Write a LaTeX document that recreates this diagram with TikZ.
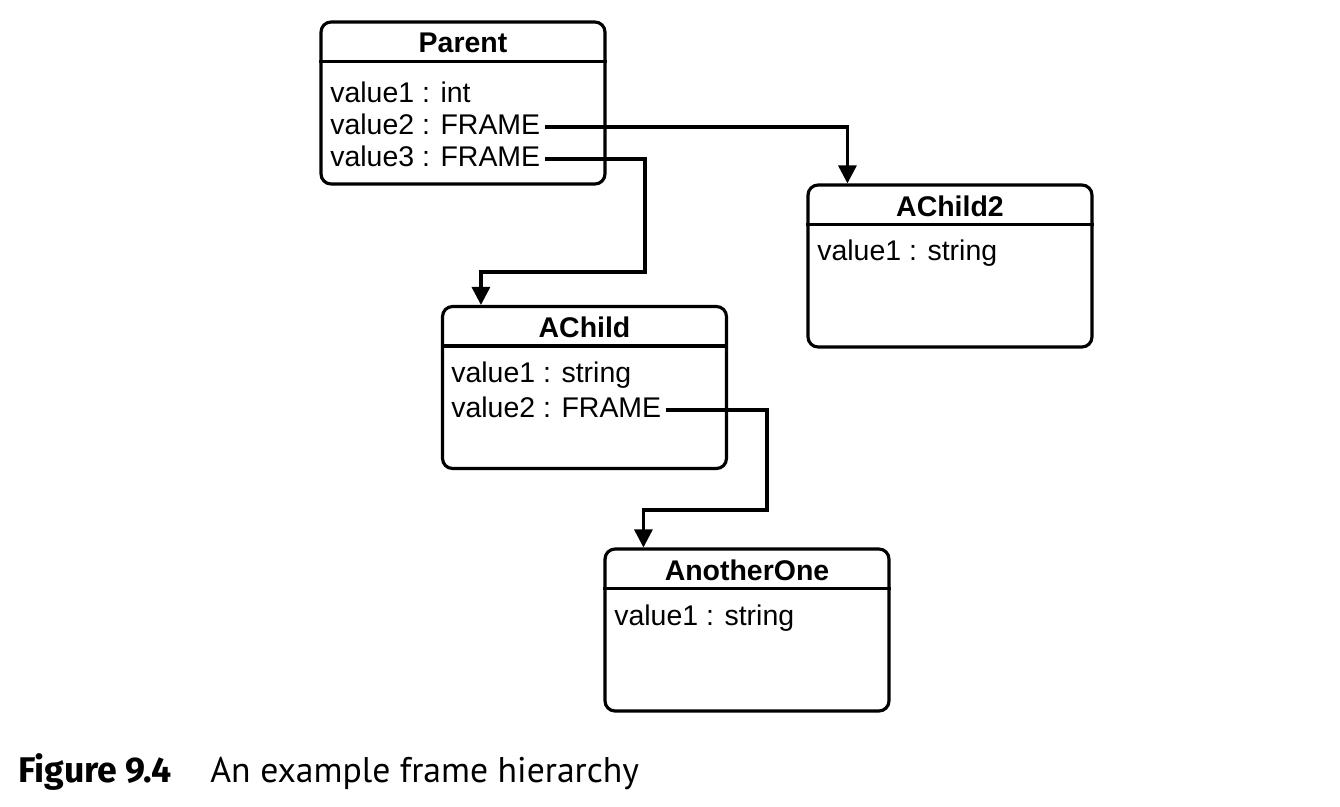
\documentclass[tikz,border=0pt]{standalone}
\usepackage{fontspec}
\setmainfont{Liberation Sans}
\newfontfamily\capfont{PT Sans}
\newfontfamily\caplabelfont{Fira Sans}
\usetikzlibrary{arrows.meta}
\tikzset{
    frame/.style={draw, line width=1.8pt, rounded corners=0.2cm, minimum width=5.68cm, minimum height=3.24cm},
    title/.style={font=\fontsize{16.2}{18}\selectfont\bfseries},
    row/.style={anchor=west, inner sep=0.08cm, font=\fontsize{16.2}{18}\selectfont},
    link/.style={line width=1.8pt, -{Triangle[length=0.36cm, width=0.36cm]}},
    sep/.style={line width=1.8pt}
}
\begin{document}
\begin{tikzpicture}[x=0.02cm, y=-0.02cm]
    \useasboundingbox (0,0) rectangle (1340,806);
    % boxes
    \node [frame] (parent) at (463,103) {};
    \node [frame] (achildtwo) at (950,266) {};
    \node [frame] (achild) at (584.5,387.5) {};
    \node [frame] (another) at (747,630) {};
    \draw [sep] ([yshift=-0.82cm]parent.north west) -- ([yshift=-0.82cm]parent.north east);
    \draw [sep] ([yshift=-0.82cm]achildtwo.north west) -- ([yshift=-0.82cm]achildtwo.north east);
    \draw [sep] ([yshift=-0.82cm]achild.north west) -- ([yshift=-0.82cm]achild.north east);
    \draw [sep] ([yshift=-0.82cm]another.north west) -- ([yshift=-0.82cm]another.north east);
    % titles
    \node [title] (parenttitle) at (463,43) {Parent};
    \node [title] (achildtwotitle) at (950,206) {AChild2};
    \node [title] (achildtitle) at (584.5,327) {AChild};
    \node [title] (anothertitle) at (747,570) {AnotherOne};
    % rows
    \node [row] (p1) at (326,92) {value1 : int};
    \node [row] (p2) at (326,124) {value2 : FRAME};
    \node [row] (p3) at (326,156) {value3 : FRAME};
    \node [row] (c2v1) at (813,253) {value1 : string};
    \node [row] (c1v1) at (447,375) {value1 : string};
    \node [row] (c1v2) at (447,407) {value2 : FRAME};
    \node [row] (aov1) at (610,618) {value1 : string};
    % links
    \draw [link] ([yshift=-0.06cm]p2.east) -| ([xshift=0.82cm]achildtwo.north west);
    \draw [link] ([yshift=-0.06cm]p3.east) -| (645,272) -| ([xshift=0.8cm]achild.north west);
    \draw [link] ([yshift=-0.06cm]c1v2.east) -| (767,510) -| ([xshift=0.8cm]another.north west);
    % caption
    \node [anchor=base west, inner sep=0, font=\caplabelfont\fontsize{20.3}{22}\selectfont\bfseries] (figlabel) at (18,782) {Figure 9.4};
    \node [anchor=base west, inner sep=0, font=\capfont\fontsize{20.3}{22}\selectfont] (figtext) at (210,782) {An example frame hierarchy};
\end{tikzpicture}
\end{document}
